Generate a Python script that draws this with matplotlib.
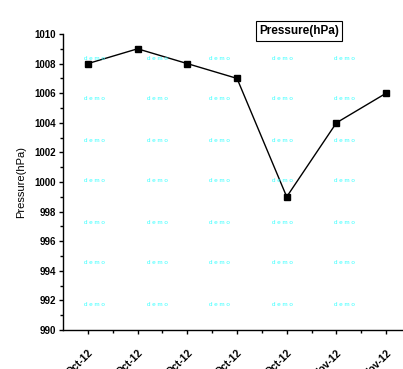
import matplotlib.pyplot as plt
import matplotlib.transforms as mtransforms
import numpy as np

plt.rcParams['font.family'] = ['Liberation Sans', 'DejaVu Sans']

# data
dates = ['Oct-12', 'Oct-12', 'Oct-12', 'Oct-12', 'Oct-12', 'Nov-12', 'Nov-12']
pressure = [1008, 1009, 1008, 1007, 999, 1004, 1006]

fig = plt.figure(figsize=(4.03, 3.69), dpi=100)
ax = fig.add_axes([63 / 403, 1 - 330 / 369, 348 / 403, 296 / 369])

x = np.arange(1, len(pressure) + 1)
ax.plot(x, pressure, color='black', lw=1, marker='s', ms=5, mfc='black', mec='black')

ax.set_xlim(0.5, 7.5)
ax.set_ylim(990, 1010)
ax.set_yticks(np.arange(990, 1011, 2))
ax.set_yticks(np.arange(991, 1010, 2), minor=True)
ax.set_xticks(x)
ax.set_xticks(np.arange(1.5, 7.6, 1), minor=True)
ax.set_xticklabels(dates, rotation=45, ha='right', rotation_mode='anchor')

shift = mtransforms.ScaledTranslation(3 / 100, 0, fig.dpi_scale_trans)
for lab in ax.get_xticklabels():
    lab.set_fontweight('bold')
    lab.set_fontsize(7.5)
    lab.set_transform(lab.get_transform() + shift)
for lab in ax.get_yticklabels():
    lab.set_fontweight('bold')
    lab.set_fontsize(7)

ax.tick_params(which='major', direction='out', length=3, width=1)
ax.tick_params(which='minor', direction='out', length=2, width=1)
ax.tick_params(axis='x', pad=10)
ax.tick_params(axis='y', pad=2)

ax.spines['top'].set_visible(False)
ax.spines['right'].set_visible(False)
ax.spines['left'].set_linewidth(1)
ax.spines['bottom'].set_linewidth(1)

ax.set_ylabel('Pressure(hPa)', fontsize=8, labelpad=6)

# watermark grid
for cx in [94, 157, 219, 282, 344]:
    for cy in [58, 99, 140, 181, 222, 263, 304]:
        fig.text(cx / 403, 1 - cy / 369, 'd e m o', color='#33ffff',
                 fontsize=4.5, ha='center', va='center')

fig.text(299 / 403, 1 - 31 / 369, 'Pressure(hPa)', fontsize=8.5, fontweight='bold',
         ha='center', va='center',
         bbox=dict(boxstyle='square,pad=0.3', fc='white', ec='black', lw=0.8))

fig.savefig('out.png', dpi=100)
